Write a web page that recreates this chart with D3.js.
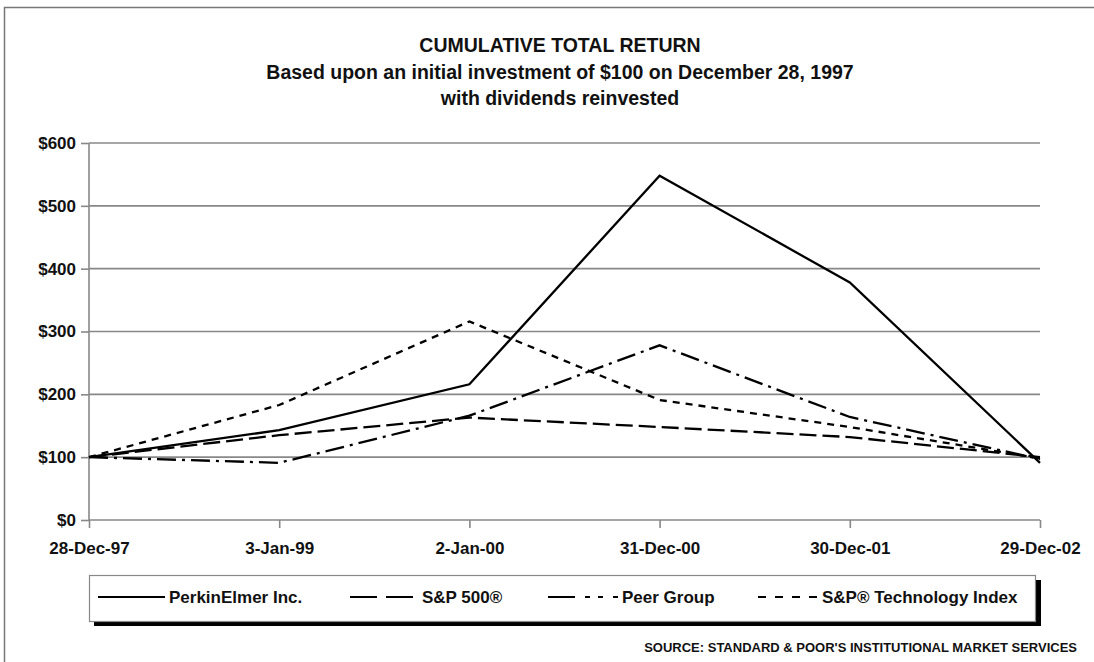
<!DOCTYPE html>
<html>
<head>
<meta charset="utf-8">
<script src="https://cdn.jsdelivr.net/npm/d3@7"></script>
<style>
  body { margin: 0; background: #fff; }
  svg { display: block; font-family: "Liberation Sans", Arial, sans-serif; font-weight: bold; }
</style>
</head>
<body>
<svg width="1094" height="662"></svg>
<script>
// data
const dates = ["28-Dec-97", "3-Jan-99", "2-Jan-00", "31-Dec-00", "30-Dec-01", "29-Dec-02"];
const perkinElmer = [100, 143, 216, 548, 378, 91];
const sp500 = [100, 135, 163, 148, 132, 100];
const peerGroup = [100, 91, 166, 278, 164, 97];
const spTech = [100, 183, 316, 191, 148, 98];
const seriesNames = ["PerkinElmer Inc.", "S&P 500\u00AE", "Peer Group", "S&P\u00AE Technology Index"];
const yTicks = [0, 100, 200, 300, 400, 500, 600];

const titleLines = [
  "CUMULATIVE TOTAL RETURN",
  "Based upon an initial investment of $100 on December 28, 1997",
  "with dividends reinvested"
];
const sourceText = "SOURCE: STANDARD & POOR'S INSTITUTIONAL MARKET SERVICES";

/* ---- dimensions ---- */
const plotLeft = 89, plotRight = 1040, plotTop = 143, plotBottom = 520;

const svg = d3.select("svg");

// outer frame (only top & left visible)
svg.append("rect")
  .attr("x", 4.5).attr("y", 7.5)
  .attr("width", 1200).attr("height", 800)
  .attr("fill", "none").attr("stroke", "#777").attr("stroke-width", 1.5);

// titles
svg.selectAll(".title")
  .data(titleLines)
  .enter()
  .append("text")
  .attr("x", 560)
  .attr("y", (d, i) => 52 + i * 26.5)
  .attr("text-anchor", "middle")
  .attr("font-size", 19.5)
  .attr("fill", "#111")
  .text(d => d);

/* ---- scales ---- */
const x = d3.scalePoint().domain(dates).range([plotLeft, plotRight]);
const y = d3.scaleLinear().domain([0, 600]).range([plotBottom, plotTop]);

// grid lines
svg.append("g")
  .selectAll("line")
  .data(yTicks.slice(1))
  .enter()
  .append("line")
  .attr("x1", plotLeft).attr("x2", plotRight)
  .attr("y1", d => y(d)).attr("y2", d => y(d))
  .attr("stroke", "#888").attr("stroke-width", 1.6);

// axes
const yAxis = d3.axisLeft(y).tickValues(yTicks).tickSize(8).tickPadding(5)
  .tickFormat(d => "$" + d);
const xAxis = d3.axisBottom(x).tickSize(8).tickPadding(14);

const gy = svg.append("g").attr("transform", "translate(" + plotLeft + ",0)").call(yAxis);
const gx = svg.append("g").attr("transform", "translate(0," + plotBottom + ")").call(xAxis);

[gx, gy].forEach(g => {
  g.select(".domain").attr("stroke", "#888").attr("stroke-width", 1.6);
  g.selectAll(".tick line").attr("stroke", "#888").attr("stroke-width", 1.6);
  g.selectAll("text")
    .attr("fill", "#111")
    .attr("font-family", "'Liberation Sans', Arial, sans-serif")
    .attr("font-weight", "bold")
    .attr("font-size", 17);
});
gx.select(".domain").attr("d", "M" + plotLeft + ",0H" + plotRight);
gy.select(".domain").attr("d", "M0," + y(0) + "V" + y(600));

/* ---- lines ---- */
const series = [
  { name: seriesNames[0], values: perkinElmer, dash: null, legendDash: null },
  { name: seriesNames[1], values: sp500, dash: "17,6", legendDash: "27,9" },
  { name: seriesNames[2], values: peerGroup, dash: "19,6,3,6", legendDash: "27,10,5,8,5,10" },
  { name: seriesNames[3], values: spTech, dash: "7,6", legendDash: "8,9" }
];

const line = d3.line()
  .x((d, i) => x(dates[i]))
  .y(d => y(d));

svg.append("g")
  .selectAll("path")
  .data(series)
  .enter()
  .append("path")
  .attr("fill", "none")
  .attr("stroke", "#000")
  .attr("stroke-width", 2.3)
  .attr("stroke-dasharray", d => d.dash)
  .attr("d", d => line(d.values));

/* ---- legend ---- */
const lg = svg.append("g");
lg.append("rect")
  .attr("x", 94).attr("y", 580).attr("width", 947).attr("height", 46)
  .attr("fill", "#000");
lg.append("rect")
  .attr("x", 89.5).attr("y", 575.5).attr("width", 946).attr("height", 46)
  .attr("fill", "#fff").attr("stroke", "#888").attr("stroke-width", 1.2);

const legendPos = [
  { x1: 98, x2: 165, tx: 169 },
  { x1: 350, x2: 415, tx: 422 },
  { x1: 548, x2: 618, tx: 622 },
  { x1: 758, x2: 817, tx: 822 }
];

const items = lg.selectAll(".item")
  .data(series)
  .enter()
  .append("g");

items.append("line")
  .attr("x1", (d, i) => legendPos[i].x1)
  .attr("x2", (d, i) => legendPos[i].x2)
  .attr("y1", 597).attr("y2", 597)
  .attr("stroke", "#000").attr("stroke-width", 2.2)
  .attr("stroke-dasharray", d => d.legendDash);

items.append("text")
  .attr("x", (d, i) => legendPos[i].tx)
  .attr("y", 603)
  .attr("font-size", 17)
  .attr("fill", "#111")
  .text(d => d.name);

// source
svg.append("text")
  .attr("x", 1077).attr("y", 652)
  .attr("text-anchor", "end")
  .attr("font-size", 13)
  .attr("fill", "#111")
  .text(sourceText);
</script>
</body>
</html>
